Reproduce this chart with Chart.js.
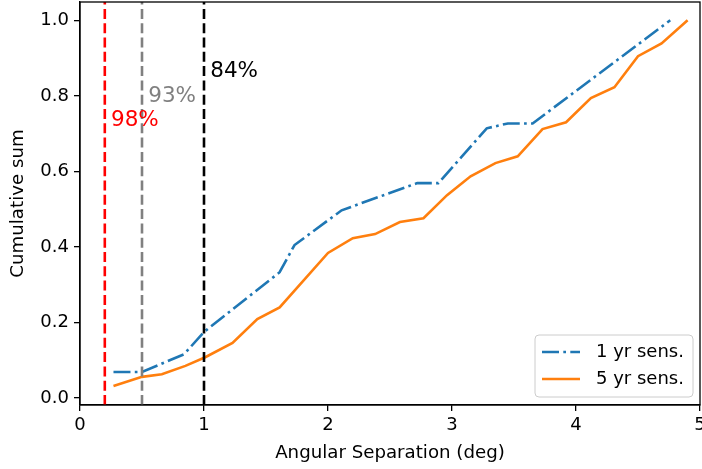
<!DOCTYPE html>
<html>
<head>
<meta charset="utf-8">
<script src="https://cdn.jsdelivr.net/npm/chart.js@4.4.0/dist/chart.umd.min.js"></script>
<style>
  html, body { margin: 0; padding: 0; background: #fff; }
  #wrap { width: 702px; height: 469px; }
</style>
</head>
<body>
<div id="wrap"><canvas id="cumChart" width="702" height="469"></canvas></div>
<script>
// data
const sens1X = [0.27, 0.5, 0.84, 1.0, 1.61, 1.73, 2.11, 2.72, 2.89, 3.28, 3.45, 3.65, 4.76];
const sens1Y = [0.069, 0.069, 0.116, 0.175, 0.333, 0.405, 0.497, 0.569, 0.569, 0.714, 0.727, 0.727, 1.0];

const sens5X = [0.27, 0.5, 0.66, 0.85, 1.01, 1.23, 1.43, 1.61, 2.0, 2.2, 2.38, 2.58, 2.77, 2.96, 3.15, 3.35, 3.53, 3.73, 3.92, 4.12, 4.31, 4.5, 4.69, 4.9];
const sens5Y = [0.032, 0.056, 0.063, 0.085, 0.108, 0.146, 0.209, 0.24, 0.384, 0.423, 0.434, 0.466, 0.476, 0.537, 0.587, 0.622, 0.64, 0.712, 0.73, 0.794, 0.823, 0.905, 0.939, 1.0];

const seriesLabels = ['1 yr sens.', '5 yr sens.'];

// vertical markers and their percentage notes
const markerX = [0.2, 0.5, 1.0];
const markerColors = ['red', 'gray', 'black'];
const noteText = ['98%', '93%', '84%'];
const noteX = [0.25, 0.55, 1.05];
const noteY = [0.72, 0.785, 0.85];

const xTicks = [0, 1, 2, 3, 4, 5];
const yTicks = [0.0, 0.2, 0.4, 0.6, 0.8, 1.0];

const FONT = 'DejaVu Sans';

function toPoints(xs, ys) {
    return xs.map((x, i) => ({ x: x, y: ys[i] }));
}

// axvline + text, drawn through the scales
const markerPlugin = {
    id: 'markers',
    afterDatasetsDraw(chart) {
        const ctx = chart.ctx;
        const area = chart.chartArea;
        const xs = chart.scales.x, ys = chart.scales.y;
        ctx.save();
        ctx.lineWidth = 2.6;
        ctx.setLineDash([10, 4.3]);
        markerX.forEach((v, i) => {
            const px = xs.getPixelForValue(v);
            ctx.strokeStyle = markerColors[i];
            ctx.beginPath();
            ctx.moveTo(px, area.bottom);
            ctx.lineTo(px, area.top);
            ctx.stroke();
        });
        ctx.setLineDash([]);
        ctx.font = '21.5px "' + FONT + '"';
        ctx.textAlign = 'left';
        ctx.textBaseline = 'alphabetic';
        noteText.forEach((t, i) => {
            ctx.fillStyle = markerColors[i];
            ctx.fillText(t, xs.getPixelForValue(noteX[i]), ys.getPixelForValue(noteY[i]));
        });
        ctx.restore();
    }
};

// matplotlib-like frame and legend box in lower right
const framePlugin = {
    id: 'frame',
    afterDraw(chart) {
        const ctx = chart.ctx;
        const a = chart.chartArea;
        ctx.save();
        ctx.strokeStyle = '#000';
        ctx.lineWidth = 1.3;
        ctx.strokeRect(a.left, a.top, a.right - a.left, a.bottom - a.top);

        // legend
        const bx = 535, by = 335, bw = 158, bh = 62;
        ctx.fillStyle = 'rgba(255,255,255,0.8)';
        ctx.strokeStyle = '#cccccc';
        ctx.lineWidth = 1;
        ctx.beginPath();
        ctx.roundRect(bx, by, bw, bh, 4);
        ctx.fill();
        ctx.stroke();

        ctx.font = '18px "' + FONT + '"';
        ctx.textBaseline = 'middle';
        ctx.textAlign = 'left';
        chart.data.datasets.forEach((ds, i) => {
            const ry = by + 17 + i * 27;
            ctx.strokeStyle = ds.borderColor;
            ctx.lineWidth = ds.borderWidth;
            ctx.setLineDash(ds.borderDash || []);
            ctx.beginPath();
            ctx.moveTo(bx + 7, ry);
            ctx.lineTo(bx + 45, ry);
            ctx.stroke();
            ctx.setLineDash([]);
            ctx.fillStyle = '#000';
            ctx.fillText(ds.label, bx + 61, ry);
        });
        ctx.restore();
    }
};

new Chart(document.getElementById('cumChart'), {
    type: 'line',
    data: {
        datasets: [
            {
                label: seriesLabels[0],
                data: toPoints(sens1X, sens1Y),
                borderColor: '#1f77b4',
                borderWidth: 2.6,
                borderDash: [17, 4.3, 2.7, 4.3],
                pointRadius: 0,
                fill: false,
                tension: 0
            },
            {
                label: seriesLabels[1],
                data: toPoints(sens5X, sens5Y),
                borderColor: '#ff7f0e',
                borderWidth: 2.6,
                pointRadius: 0,
                fill: false,
                tension: 0
            }
        ]
    },
    options: {
        responsive: false,
        animation: false,
        layout: { padding: { top: 2, right: 2, left: 0, bottom: 0 } },
        plugins: {
            legend: { display: false },
            tooltip: { enabled: false }
        },
        scales: {
            x: {
                type: 'linear',
                min: 0,
                max: 5,
                afterBuildTicks: (s) => { s.ticks = xTicks.map(v => ({ value: v })); },
                afterFit: (s) => { s.height = 64; s.paddingLeft = 0; s.paddingRight = 0; },
                grid: { drawOnChartArea: false, drawTicks: true, tickLength: 6, color: '#000', lineWidth: 1.3 },
                border: { display: true, color: '#000', width: 1.3 },
                ticks: {
                    color: '#000',
                    font: { family: FONT, size: 18 },
                    padding: 4,
                    maxRotation: 0,
                    callback: (v) => String(v)
                },
                title: {
                    display: true,
                    text: 'Angular Separation (deg)',
                    color: '#000',
                    font: { family: FONT, size: 18.2 },
                    padding: { top: 0, bottom: 5 }
                }
            },
            y: {
                type: 'linear',
                min: -0.0185,
                max: 1.0485,
                afterBuildTicks: (s) => { s.ticks = yTicks.map(v => ({ value: v })); },
                afterFit: (s) => { s.width = 80; s.paddingTop = 0; s.paddingBottom = 0; },
                grid: { drawOnChartArea: false, drawTicks: true, tickLength: 6, color: '#000', lineWidth: 1.3 },
                border: { display: true, color: '#000', width: 1.3 },
                ticks: {
                    color: '#000',
                    font: { family: FONT, size: 18 },
                    padding: 5,
                    callback: (v) => v.toFixed(1)
                },
                title: {
                    display: true,
                    text: 'Cumulative sum',
                    color: '#000',
                    font: { family: FONT, size: 18.2 },
                    padding: { top: 7, bottom: 0 }
                }
            }
        }
    },
    plugins: [markerPlugin, framePlugin]
});
</script>
</body>
</html>
